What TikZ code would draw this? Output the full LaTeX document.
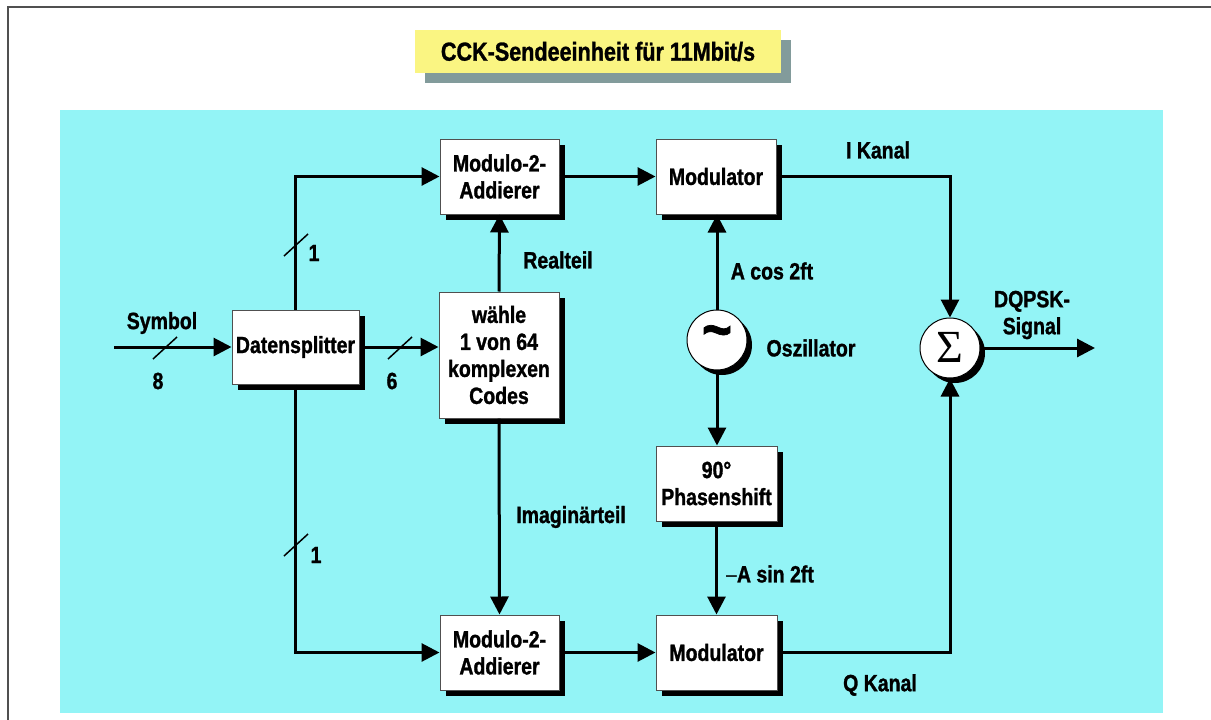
\documentclass[tikz,border=0pt]{standalone}
\usepackage{fontspec}
\setmainfont{Liberation Sans}[FakeStretch=0.83, BoldFeatures={FakeBold=1.2}]
\newfontfamily\sigmafont{Liberation Serif}
\usetikzlibrary{arrows.meta,shadows,calc}
\definecolor{panel}{RGB}{147,244,246}
\definecolor{titlefill}{RGB}{250,245,130}
\definecolor{titleshadow}{RGB}{130,155,155}
\definecolor{framegray}{RGB}{80,80,80}
\tikzset{
  txt/.style={font=\fontsize{23.5}{27}\selectfont\bfseries, align=center, inner sep=0pt},
  block/.style={txt, draw=framegray, line width=1pt, fill=white,
    general shadow={fill=black, shadow xshift=6pt, shadow yshift=-6pt}},
  ring/.style={circle, draw=black, line width=1pt, fill=white, inner sep=0pt,
    minimum size=60pt,
    general shadow={fill=black, shadow xshift=5pt, shadow yshift=-5pt}},
  wire/.style={line width=3pt, -{Triangle[length=18pt,width=18pt]}},
  tick/.style={line width=1.5pt},
}
\begin{document}
\begin{tikzpicture}[x=1pt,y=-1pt]
\useasboundingbox (0,0) rectangle (1211,720);
% outer frame (top and left edges)
\draw[framegray, line width=2pt] (8,720) -- (8,7) -- (1211,7);
% title
\node[txt, font=\fontsize{26}{30}\selectfont\bfseries, fill=titlefill,
  minimum width=366pt, minimum height=43pt,
  general shadow={fill=titleshadow, shadow xshift=10pt, shadow yshift=-10pt}]
  (title) at (598,51.5) {CCK-Sendeeinheit für 11Mbit/s};
% background panel
\fill[panel] (60,110) rectangle (1163,713);

% blocks
\node[block, minimum width=119pt, minimum height=75pt] (mtop) at (499.5,176.5) {Modulo-2-\\Addierer};
\node[block, minimum width=120pt, minimum height=75pt] (modtop) at (716,176.5) {Modulator};
\node[block, minimum width=120pt, minimum height=126pt] (wahl) at (499,355) {wähle\\1 von 64\\komplexen\\Codes};
\node[block, minimum width=127pt, minimum height=74pt] (split) at (295.5,347) {Datensplitter};
\node[block, minimum width=121pt, minimum height=75pt] (phase) at (716.5,483.5) {90°\\Phasenshift};
\node[block, minimum width=119pt, minimum height=75pt] (mbot) at (499.5,652.5) {Modulo-2-\\Addierer};
\node[block, minimum width=121pt, minimum height=75pt] (modbot) at (716.5,652.5) {Modulator};
\node[ring] (osc) at (717,340) {};
\node[font=\fontsize{62}{62}\selectfont\bfseries, inner sep=0pt] (tilde) at (717,338) {\char`\~};
\node[ring] (sig) at (950,348) {};
\node[inner sep=0pt, font=\sigmafont\fontsize{46}{46}\selectfont] (sigsym) at (950,347) {Σ};

% connections
\coordinate (in) at (114,347);
\coordinate (out) at (1095,348);
\draw[wire] (in) -- (split.west);
\draw[wire] (split.east) -- (split.east -| wahl.west);
\draw[wire] (split.north) |- (mtop.west);
\draw[wire] (split.south) |- (mbot.west);
\draw[wire] (wahl.north) -- (mtop.south);
\draw[wire] (wahl.south) -- (mbot.north);
\draw[wire] (mtop.east) -- (modtop.west);
\draw[wire] (mbot.east) -- (modbot.west);
\draw[wire] (osc.north) -- (osc.north |- modtop.south);
\draw[wire] (osc.south) -- (osc.south |- phase.north);
\draw[wire] (phase.south) -- (modbot.north);
\draw[wire] (modtop.east) -| (sig.north);
\draw[wire] (modbot.east) -| (sig.south);
\draw[wire] (sig.east) -- (out);

% bus width ticks
\coordinate (t8) at (165,348);
\coordinate (t6) at (400,348);
\coordinate (t1a) at (296,245);
\coordinate (t1b) at (296,545);
\foreach \p in {t8,t6,t1a,t1b}
  \draw[tick] ($(\p)+(-12,11)$) -- ($(\p)+(12,-11)$);

% labels
\node[txt] (lsym) at (162,323) {Symbol};
\node[txt] (l8) at (158,381) {8};
\node[txt] (l6) at (392,381) {6};
\node[txt] (l1a) at (314,253) {1};
\node[txt] (l1b) at (316,555) {1};
\node[txt] (lreal) at (558,260) {Realteil};
\node[txt] (limag) at (571,517) {Imaginärteil};
\node[txt] (lcos) at (772,271) {A cos 2ft};
\node[txt] (losc) at (811,348) {Oszillator};
\node[txt] (lsin) at (770,574) {\fontseries{m}\selectfont–\bfseries A sin 2ft};
\node[txt] (lI) at (878,150) {I Kanal};
\node[txt] (lQ) at (880,685) {Q Kanal};
\node[txt] (ldq) at (1032,315) {DQPSK-\\Signal};
\end{tikzpicture}
\end{document}
